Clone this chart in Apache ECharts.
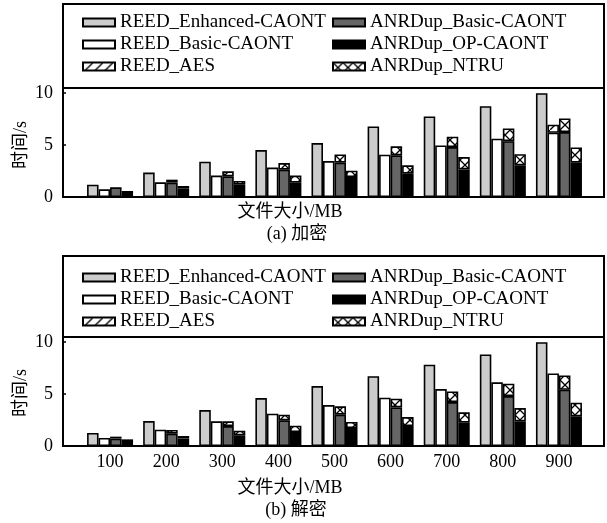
<!DOCTYPE html>
<html><head><meta charset="utf-8">
<script src="https://cdn.jsdelivr.net/npm/echarts@6/dist/echarts.min.js"></script>
<style>html,body{margin:0;padding:0;background:#fff}#c{width:607px;height:523px}</style>
</head><body><div id="c"></div>
<script>
const categories = ['100','200','300','400','500','600','700','800','900'];
const yTicks = [0, 5, 10];
const seriesNames = ['REED_Enhanced-CAONT','REED_Basic-CAONT','REED_AES','ANRDup_Basic-CAONT','ANRDup_OP-CAONT','ANRDup_NTRU'];

// (a) encryption
const encEnhanced = [1.19,2.35,3.40,4.52,5.19,6.80,7.76,8.75,10.0];
const encBasic    = [0.74,1.41,2.06,2.83,3.46,4.08,4.97,5.62,6.19];
const encAES      = [null,null,null,null,null,null,null,null,0.77];
const encANRBasic = [0.93,1.38,1.99,2.63,3.31,4.01,4.81,5.38,6.25];
const encNTRU     = [null,0.29,0.48,0.64,0.79,0.87,1.00,1.23,1.32];
const encOP       = [0.58,0.80,1.19,1.38,1.92,2.25,2.66,3.05,3.31];
const encOPTop    = [null,0.26,0.35,0.68,0.62,0.80,1.19,1.08,1.47];

// (b) decryption
const decEnhanced = [1.25,2.40,3.46,4.62,5.77,6.73,7.83,8.82,10.0];
const decBasic    = [0.77,1.57,2.38,3.11,3.94,4.65,5.48,6.13,6.99];
const decAES      = [null,null,null,null,null,null,null,null,null];
const decANRBasic = [0.71,1.19,1.92,2.47,3.02,3.72,4.23,4.81,5.42];
const decNTRU     = [0.19,0.35,0.46,0.55,0.80,0.84,1.03,1.19,1.38];
const decOP       = [0.38,0.71,1.03,1.35,1.73,1.92,2.25,2.38,2.86];
const decOPTop    = [0.26,0.25,0.45,0.61,0.58,0.87,0.99,1.27,1.31];

const FONT = '"Liberation Serif","Times New Roman","Noto Sans CJK SC",serif';

function makePattern(cross){
  const c = document.createElement('canvas'); c.width = 10; c.height = 10;
  const ctx = c.getContext('2d');
  ctx.fillStyle = '#fff'; ctx.fillRect(0,0,10,10);
  ctx.strokeStyle = '#000'; ctx.lineWidth = 1.3;
  ctx.beginPath(); ctx.moveTo(0,10); ctx.lineTo(10,0);
  if (cross){ ctx.moveTo(0,0); ctx.lineTo(10,10); }
  ctx.stroke();
  return {image: c, repeat: 'repeat'};
}
const hatch = makePattern(false), xhatch = makePattern(true);

const BW = 1.6;
function bar(name, data, stack, color, axis){
  return {type:'bar', name, data, stack: stack + axis, xAxisIndex: axis, yAxisIndex: axis,
    barCategoryGap:'18%', barGap:'0%',
    itemStyle:{color, borderColor:'#000', borderWidth:BW}, emphasis:{disabled:true}};
}
function panelSeries(axis, en, ba, aes, anb, ntru, op, opTop){
  return [
    bar(seriesNames[0], en, 's1', '#cccccc', axis),
    bar(seriesNames[1], ba, 's2', '#ffffff', axis),
    bar(seriesNames[2], aes, 's2', hatch, axis),
    bar(seriesNames[3], anb, 's3', '#666666', axis),
    bar(seriesNames[5], ntru, 's3', xhatch, axis),
    bar(seriesNames[4], op, 's4', '#000000', axis),
    bar('OP_top', opTop, 's4', xhatch, axis)
  ];
}

const PA = {top:88, height:109};
const PB = {top:337, height:109};
const YMAX = 10.5;

function frameY(gi){
  return {type:'value', gridIndex:gi, min:0, max:YMAX, interval:5,
    axisLine:{show:false}, splitLine:{show:false},
    axisTick:{show:true, inside:true, length:3, lineStyle:{color:'#000', width:1.5}},
    axisLabel:{color:'#000', fontFamily:FONT, fontSize:18, margin:10, showMaxLabel:false,
      formatter: v => yTicks.includes(v) ? String(v) : ''}};
}
function dataX(gi, labels){
  return {type:'category', gridIndex:gi, data:categories,
    axisLine:{show:false}, axisTick:{show:false},
    axisLabel:{show:labels, color:'#000', fontFamily:FONT, fontSize:18, margin:7}};
}
function legend(top, left, data){
  return {orient:'vertical', top, left, data, itemWidth:32, itemHeight:8, itemGap:3, padding:0,
    icon:'rect', selectedMode:false,
    textStyle:{color:'#000', fontFamily:FONT, fontSize:19, lineHeight:19}};
}
function txt(x, y, s, rot){
  return {type:'text', x, y, rotation: rot || 0, silent:true,
    style:{text:s, fill:'#000', font:'18px ' + FONT, textAlign:'center', textVerticalAlign:'middle'}};
}

const option = {
  animation:false,
  backgroundColor:'#fff',
  grid:[
    {left:63, width:541, top:PA.top, height:PA.height, show:true, borderColor:'#000', borderWidth:2, backgroundColor:'transparent'},
    {left:82, width:505, top:PA.top, height:PA.height},
    {left:63, width:541, top:PB.top, height:PB.height, show:true, borderColor:'#000', borderWidth:2, backgroundColor:'transparent'},
    {left:82, width:505, top:PB.top, height:PB.height}
  ],
  xAxis:[
    {type:'value', gridIndex:0, show:false},
    dataX(1, false),
    {type:'value', gridIndex:2, show:false},
    dataX(3, true)
  ],
  yAxis:[
    frameY(0),
    {type:'value', gridIndex:1, min:0, max:YMAX, show:false},
    frameY(2),
    {type:'value', gridIndex:3, min:0, max:YMAX, show:false}
  ],
  legend:[
    legend(13, 82, seriesNames.slice(0,3)),
    legend(13, 332, seriesNames.slice(3,6)),
    legend(268, 82, seriesNames.slice(0,3)),
    legend(268, 332, seriesNames.slice(3,6))
  ],
  graphic:[
    {type:'rect', shape:{x:63, y:4, width:541, height:84}, style:{fill:'none', stroke:'#000', lineWidth:2}, silent:true},
    {type:'rect', shape:{x:63, y:256, width:541, height:81}, style:{fill:'none', stroke:'#000', lineWidth:2}, silent:true},
    txt(21, 145, '时间/s', Math.PI/2),
    txt(21, 393, '时间/s', Math.PI/2),
    txt(290, 212, '文件大小/MB'),
    txt(297, 234, '(a) 加密'),
    txt(290, 488, '文件大小/MB'),
    txt(296, 510, '(b) 解密')
  ],
  series:[
    ...panelSeries(1, encEnhanced, encBasic, encAES, encANRBasic, encNTRU, encOP, encOPTop),
    ...panelSeries(3, decEnhanced, decBasic, decAES, decANRBasic, decNTRU, decOP, decOPTop)
  ]
};
const chart = echarts.init(document.getElementById('c'), null, {renderer:'canvas'});
chart.setOption(option);
</script></body></html>
